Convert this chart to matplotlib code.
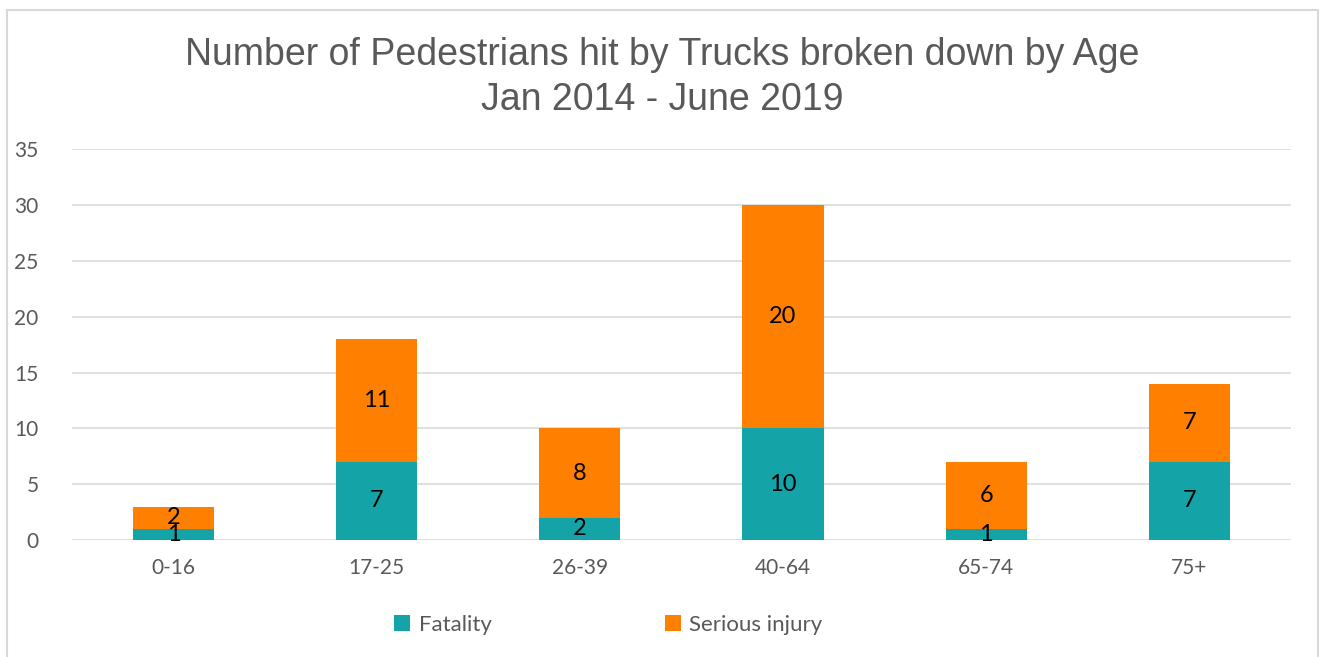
import matplotlib.pyplot as plt
from matplotlib.patches import Rectangle

# data
ages = ['0-16', '17-25', '26-39', '40-64', '65-74', '75+']
fatality = [1, 7, 2, 10, 1, 7]
serious = [2, 11, 8, 20, 6, 7]

teal = '#14A3A6'
orange = '#FF8000'
grey = '#595959'

fig = plt.figure(figsize=(13.2, 6.57), dpi=100)
ax = fig.add_axes([0.0545, 0.178, 0.9235, 0.595])

x = range(len(ages))
b1 = ax.bar(x, fatality, width=0.4, color=teal, label='Fatality', zorder=3)
b2 = ax.bar(x, serious, width=0.4, bottom=fatality, color=orange,
            label='Serious injury', zorder=3)

# data labels in the middle of each segment
ax.bar_label(b1, label_type='center', fontsize=17, color='black', family='Lato')
ax.bar_label(b2, label_type='center', fontsize=17, color='black', family='Lato')

ax.set_xlim(-0.5, len(ages) - 0.5)
ax.set_ylim(0, 35)
ax.set_yticks(range(0, 36, 5))
ax.set_xticks(list(x))
ax.set_xticklabels(ages)
ax.yaxis.grid(True, color='#D9D9D9', linewidth=1.2, zorder=0)
for s in ax.spines.values():
    s.set_visible(False)
ax.tick_params(length=0, labelsize=15, labelcolor=grey, pad=13)
ax.tick_params(axis='y', pad=24)
for lab in ax.get_xticklabels() + ax.get_yticklabels():
    lab.set_family('Lato')

fig.text(0.502, 0.882, 'Number of Pedestrians hit by Trucks broken down by Age\nJan 2014 - June 2019',
         ha='center', va='center', fontsize=27, color=grey, family='Liberation Sans',
         linespacing=1.3)

leg = fig.legend(handles=[b1, b2], loc='center', bbox_to_anchor=(0.461, 0.049), ncol=2,
                 frameon=False, fontsize=16, handlelength=0.7, handleheight=0.7,
                 columnspacing=7.8, handletextpad=0.4)
for t in leg.get_texts():
    t.set_color(grey)
    t.set_family('Lato')

# chart frame
fig.patches.append(Rectangle((7 / 1320, -0.05), 1311 / 1320, 1.05 - 10 / 657,
                             transform=fig.transFigure, fill=False,
                             edgecolor='#D9D9D9', linewidth=1.5))

plt.savefig('out.png')
